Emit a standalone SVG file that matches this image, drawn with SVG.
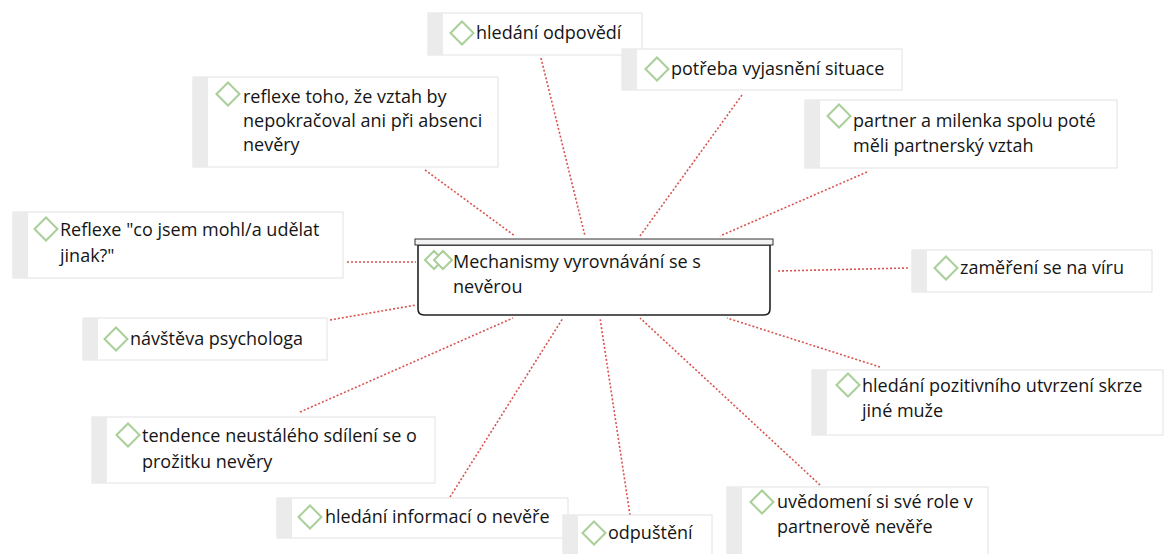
<svg xmlns="http://www.w3.org/2000/svg" xmlns:xlink="http://www.w3.org/1999/xlink" width="1168" height="554" viewBox="0 0 1168 554">
<style>
.bg{fill:#ffffff}
.strip{fill:#ebebeb}
.body{fill:#ffffff;stroke:#e2e2e2;stroke-width:1}
.t{font-family:"Open Sans","Noto Sans",sans-serif;font-size:18px;fill:#151515}
.dia{fill:#ffffff;stroke:#a8cf98;stroke-width:2}
.conn line{stroke:#d9534f;stroke-width:1.6;stroke-dasharray:2 2;fill:none}
.cbody{fill:#ffffff;stroke:#222;stroke-width:1.6}
.cbar{fill:#f2f2f2;stroke:#333;stroke-width:1}
</style>
<defs>
<polygon id="d" points="0,-11.5 11.5,0 0,11.5 -11.5,0"/>
<polygon id="ds" points="0,-9 9,0 0,9 -9,0"/>
</defs>
<rect class="bg" x="0" y="0" width="1168" height="554"/>
<g id="connectors" class="conn">
<line x1="541" y1="58" x2="585" y2="236"/>
<line x1="742" y1="95" x2="640" y2="236"/>
<line x1="425" y1="170" x2="515" y2="236"/>
<line x1="867" y1="172" x2="720" y2="236"/>
<line x1="347" y1="262" x2="416" y2="262"/>
<line x1="778" y1="271" x2="908" y2="268"/>
<line x1="330" y1="320" x2="416" y2="305"/>
<line x1="880" y1="367" x2="727" y2="318"/>
<line x1="300" y1="412" x2="513" y2="318"/>
<line x1="450" y1="497" x2="563" y2="318"/>
<line x1="630" y1="515" x2="600" y2="318"/>
<line x1="820" y1="485" x2="640" y2="318"/>
</g>
<g id="n_odpovedi">
<rect class="body" x="428" y="13" width="214" height="42"/><rect class="strip" x="428" y="13" width="15" height="42"/>
<use href="#d" class="dia" x="462" y="33"/>
<text class="t" x="476" y="39">hledání odpovědí</text>
</g>
<g id="n_potreba">
<rect class="body" x="622" y="49" width="280" height="41"/><rect class="strip" x="622" y="49" width="15" height="41"/>
<use href="#d" class="dia" x="657" y="69"/>
<text class="t" x="671" y="75">potřeba vyjasnění situace</text>
</g>
<g id="n_reflexe_toho">
<rect class="body" x="193" y="77" width="305" height="90"/><rect class="strip" x="193" y="77" width="15" height="90"/>
<use href="#d" class="dia" x="228" y="94"/>
<text class="t" x="243" y="103">reflexe toho, že vztah by</text>
<text class="t" x="243" y="127">nepokračoval ani při absenci</text>
<text class="t" x="243" y="151">nevěry</text>
</g>
<g id="n_partner">
<rect class="body" x="805" y="100" width="312" height="68"/><rect class="strip" x="805" y="100" width="15" height="68"/>
<use href="#d" class="dia" x="839" y="116"/>
<text class="t" x="853" y="127">partner a milenka spolu poté</text>
<text class="t" x="853" y="152">měli partnerský vztah</text>
</g>
<g id="n_reflexe_co">
<rect class="body" x="13" y="212" width="330" height="66"/><rect class="strip" x="13" y="212" width="15" height="66"/>
<use href="#d" class="dia" x="46" y="229"/>
<text class="t" x="60" y="236">Reflexe "co jsem mohl/a udělat</text>
<text class="t" x="60" y="262">jinak?"</text>
</g>
<g id="n_zamereni">
<rect class="body" x="912" y="250" width="240" height="42"/><rect class="strip" x="912" y="250" width="15" height="42"/>
<use href="#d" class="dia" x="946" y="268"/>
<text class="t" x="960" y="274">zaměření se na víru</text>
</g>
<g id="n_navsteva">
<rect class="body" x="83" y="318" width="244" height="42"/><rect class="strip" x="83" y="318" width="15" height="42"/>
<use href="#d" class="dia" x="116" y="339"/>
<text class="t" x="130" y="345">návštěva psychologa</text>
</g>
<g id="n_pozitivni">
<rect class="body" x="812" y="370" width="351" height="65"/><rect class="strip" x="812" y="370" width="15" height="65"/>
<use href="#d" class="dia" x="848" y="385"/>
<text class="t" x="862" y="392">hledání pozitivního utvrzení skrze</text>
<text class="t" x="862" y="417">jiné muže</text>
</g>
<g id="n_tendence">
<rect class="body" x="92" y="417" width="343" height="66"/><rect class="strip" x="92" y="417" width="15" height="66"/>
<use href="#d" class="dia" x="128" y="435"/>
<text class="t" x="142" y="442">tendence neustálého sdílení se o</text>
<text class="t" x="142" y="468">prožitku nevěry</text>
</g>
<g id="n_informace">
<rect class="body" x="277" y="498" width="291" height="40"/><rect class="strip" x="277" y="498" width="15" height="40"/>
<use href="#d" class="dia" x="310" y="517"/>
<text class="t" x="325" y="523">hledání informací o nevěře</text>
</g>
<g id="n_odpusteni">
<rect class="body" x="563" y="515" width="149" height="45"/><rect class="strip" x="563" y="515" width="15" height="45"/>
<use href="#d" class="dia" x="594" y="533"/>
<text class="t" x="608" y="539">odpuštění</text>
</g>
<g id="n_uvedomeni">
<rect class="body" x="727" y="487" width="261" height="70"/><rect class="strip" x="727" y="487" width="15" height="70"/>
<use href="#d" class="dia" x="762" y="502"/>
<text class="t" x="777" y="508">uvědomení si své role v</text>
<text class="t" x="777" y="533">partnerově nevěře</text>
</g>
<g id="n_central">
<path class="cbody" d="M418,245 H770 V309 Q770,315 764,315 H424 Q418,315 418,309 Z"/>
<rect class="cbar" x="415" y="239" width="358" height="6"/>
<use href="#ds" class="dia" x="434" y="260"/>
<use href="#ds" class="dia" x="443" y="260"/>
<text class="t" x="453" y="268">Mechanismy vyrovnávání se s</text>
<text class="t" x="453" y="293">nevěrou</text>
</g>
</svg>
